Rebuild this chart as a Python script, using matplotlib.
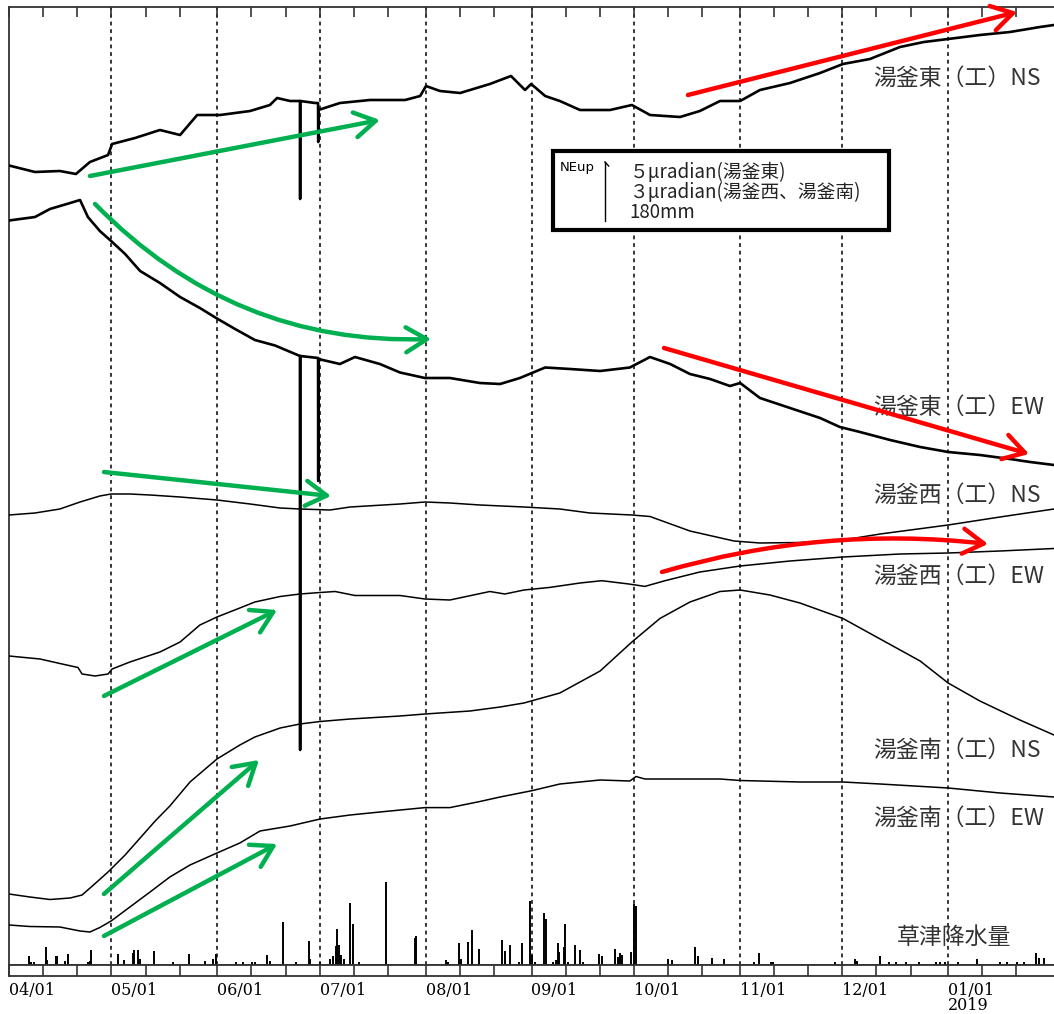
import numpy as np
import matplotlib
matplotlib.use("Agg")
import matplotlib.pyplot as plt
import matplotlib.dates as mdates
from matplotlib.patches import Rectangle

plt.rcParams['font.family'] = ['Noto Sans CJK JP', 'DejaVu Sans']

# days counted from 2018-04-01, levels are stacked plot units (0 = rain baseline)
START = mdates.date2num(np.datetime64('2018-04-01'))
END = mdates.date2num(np.datetime64('2019-02-01'))

east_ns_day = [0, 7.6, 14.9, 19.6, 23.7, 29.0, 30.2, 36.9, 44.2, 50.1, 55.1, 61.8, 70.6, 76.4,
               78.5, 82.3, 85.2, 85.25, 85.3, 89.6, 90.5, 90.55, 90.6, 96.9, 105.7, 116.0,
               120.4, 122.1, 126.2, 132.1, 140.8, 147.0, 151.1, 152.9, 157.0, 161.3, 167.2,
               176.0, 182.4, 187.7, 196.5, 202.3, 208.2, 214.1, 219.9, 228.7, 237.5, 244.2,
               252.1, 260.9, 267.9, 275.0, 284.3, 293.1, 301.9, 306.0]
east_ns_val = [799.5, 793, 794, 791, 803, 810, 821, 827, 835, 830, 850, 850, 854, 860,
               867, 864, 864, 766, 864, 862, 862, 823, 855, 862, 865, 865,
               869, 879, 874, 872, 881, 889, 875, 881, 869, 864, 855,
               855, 860, 850, 848, 854, 864, 864, 875, 882, 892, 901,
               906, 918, 923, 926, 930, 933, 938, 940]

east_ew_day = [0, 7.6, 12.0, 17.9, 20.8, 23.1, 26.6, 29.9, 34.0, 38.4, 44.2, 50.1, 55.9, 60.9,
               66.2, 72.0, 77.9, 85.2, 85.25, 85.3, 90.5, 90.55, 90.6, 96.9, 101.3, 108.6,
               114.5, 121.8, 129.1, 137.9, 143.8, 149.6, 157.0, 164.3, 173.1, 181.8, 187.7,
               193.6, 199.4, 205.3, 211.1, 214.1, 219.9, 228.7, 237.5, 243.3, 249.2, 258.0,
               266.8, 275.0, 284.3, 293.1, 299.0, 306.0]
east_ew_val = [744.5, 748, 756, 762, 765, 748, 734, 724, 711, 694, 682, 668, 657, 646.5,
               636, 625, 619.5, 609, 215, 609, 607, 484, 606, 601, 608, 601,
               592.5, 587, 587, 582, 581, 587, 597.5, 596, 594, 597.5, 608,
               601, 591, 586, 579, 582, 567, 557, 547, 538, 533, 525,
               518, 513, 510, 506, 503, 500]

west_ns_day = [0, 7.6, 14.9, 20.8, 26.6, 29.9, 35.4, 41.3, 50.1, 60.9, 70.6, 79.4, 85.2, 94.0,
               99.9, 114.5, 121.8, 129.1, 137.9, 150.8, 161.3, 170.1, 182.4, 187.7, 199.4,
               212.3, 219.9, 231.6, 244.2, 255.1, 275.0, 290.2, 306.0]
west_ns_val = [450, 452, 456, 463, 469, 471, 471, 470, 468, 465, 461, 457, 456, 455,
               458, 461, 463, 462, 460, 458, 456, 452, 450, 448.5, 434,
               424, 422, 422.5, 425, 431, 440, 448, 456]

west_ew_day = [0, 9.1, 14.9, 20.2, 21.4, 25.2, 29.0, 30.2, 35.4, 44.2, 50.1, 55.9, 60.9, 67.6,
               72.0, 79.4, 85.2, 91.1, 95.5, 101.3, 114.5, 121.8, 129.1, 140.8, 145.2, 150.8,
               158.4, 167.2, 173.6, 181.5, 186.2, 192.1, 202.3, 214.1, 228.7, 244.2, 260.9,
               275.0, 290.2, 306.0]
west_ew_val = [309, 306, 301.5, 297.5, 291, 289, 291, 296, 303, 313, 323, 340, 348, 357,
               363, 368.5, 371, 372.5, 373.5, 369.5, 369.5, 366, 365, 373.5, 371, 375,
               377.6, 382, 384.3, 381, 378.6, 384.3, 393, 399, 404, 408, 411,
               412, 414, 416.5]

south_ns_day = [0, 6.1, 12.0, 17.9, 21.4, 25.2, 29.0, 34.0, 38.4, 42.8, 47.1, 53.0, 60.9, 67.6,
                72.0, 79.4, 85.2, 91.1, 99.9, 114.5, 121.8, 135.0, 143.8, 150.8, 161.3, 173.1,
                182.4, 190.6, 199.4, 208.2, 214.1, 222.8, 231.6, 244.2, 255.1, 266.8, 275.0,
                284.3, 296.0, 306.0]
south_ns_val = [71, 68, 65.5, 67, 70, 81.4, 93, 110, 127, 144, 159, 183, 206, 220,
                228, 237, 241, 243.5, 246, 249, 251, 254, 258, 262, 272, 294,
                323, 346.5, 363, 373.5, 375, 370, 362, 346.5, 326, 304, 282,
                264, 245, 230]

south_ew_day = [0, 6.1, 14.9, 20.8, 23.7, 26.6, 29.9, 35.4, 41.3, 47.1, 53.0, 60.9, 67.6, 73.5,
                82.3, 91.1, 99.9, 108.6, 121.8, 129.1, 137.9, 143.8, 153.1, 161.3, 173.1,
                181.8, 183.6, 186.2, 196.5, 208.2, 214.1, 231.6, 244.2, 255.1, 275.0, 290.2,
                306.0]
south_ew_val = [40, 38.5, 38, 34, 33, 37.5, 44, 58, 73, 88, 100, 112, 122, 134,
                139, 146, 150, 153, 157.4, 157.4, 163.5, 168, 174.3, 181, 185,
                184, 188.5, 186, 186, 186, 184.5, 183, 183, 181, 177, 172,
                168]

# Kusatsu precipitation (mm), same day counting
rain_day = [5.8, 6.4, 7.3, 10.7, 11.0, 13.9, 14.2, 16.4, 17.2, 23.1, 23.7, 24.0, 31.8, 33.7,
            36.3, 36.6, 37.9, 38.4, 42.6, 48.0, 52.7, 57.4, 59.7, 60.6, 66.6, 68.5, 71.1,
            72.0, 75.5, 76.4, 80.2, 83.9, 87.8, 88.1, 91.1, 94.0, 94.9, 95.8, 96.0, 96.6,
            97.2, 98.1, 99.8, 100.7, 102.5, 110.4, 118.9, 119.3, 128.0, 128.6, 131.8, 132.4,
            134.4, 135.6, 137.6, 144.4, 145.1, 146.7, 149.2, 150.2, 152.6, 153.0, 154.0,
            156.7, 157.2, 159.3, 160.2, 160.7, 161.1, 162.5, 162.7, 163.7, 165.7, 167.2,
            168.1, 172.8, 173.6, 177.5, 178.3, 178.9, 179.5, 182.0, 183.0, 183.5, 193.0,
            194.0, 200.8, 201.8, 206.0, 209.4, 218.1, 219.6, 223.0, 223.7, 241.9, 247.7,
            248.3, 255.1, 257.7, 259.6, 262.6, 266.5, 271.4, 272.6, 274.1, 277.9, 283.4,
            290.2, 292.2, 295.2, 297.2, 300.7, 301.6, 303.1]
rain_mm = [26, 9, 8, 54, 15, 27, 27, 12, 35, 9, 12, 46, 35, 15,
           37, 46, 46, 18, 44, 10, 35, 12, 18, 35, 9, 8, 10,
           8, 29, 12, 131, 10, 73, 18, 10, 18, 26, 57, 111, 60,
           30, 18, 188, 124, 10, 253, 81, 88, 15, 9, 67, 18,
           69, 106, 49, 77, 44, 60, 10, 67, 195, 31, 9,
           159, 139, 9, 15, 67, 40, 54, 124, 9, 60, 46,
           9, 35, 26, 49, 24, 37, 31, 40, 186, 180, 18,
           15, 54, 26, 21, 18, 10, 37, 10, 10, 8, 18,
           12, 26, 8, 8, 8, 10, 10, 10, 10, 8, 18,
           10, 10, 10, 10, 37, 21, 21]

RAIN_SCALE = 59 / 180.0   # plot units per mm (scale bar = 180 mm)
SCALE_BAR = 59            # 5 urad (east) / 3 urad (west, south)

trace_labels = ['湯釜東（工）NS', '湯釜東（工）EW', '湯釜西（工）NS',
                '湯釜西（工）EW', '湯釜南（工）NS', '湯釜南（工）EW']
label_level = [887, 558, 470, 389, 215, 147]

month_labels = ['04/01', '05/01', '06/01', '07/01', '08/01', '09/01',
                '10/01', '11/01', '12/01', '01/01\n2019']

# hand drawn arrows: start day, start level, end day, end level, curvature
green_arrows = [(23.7, 789, 108.6, 845, 0.0),
                (25.2, 761, 123.6, 626, 0.22),
                (27.8, 493, 94.3, 469, 0.0),
                (27.8, 269, 78.5, 355, 0.0),
                (27.8, 71, 73.2, 205, 0.0),
                (27.8, 29, 78.5, 121, 0.0)]
red_arrows = [(198.8, 870, 295.2, 953, 0.0),
              (191.8, 617, 298.7, 511, 0.0),
              (191.2, 393, 286.7, 421, -0.1)]


def d(days):
    return START + np.asarray(days, dtype=float)


fig = plt.figure(figsize=(10.54, 10.14), dpi=100)
ax = fig.add_axes([9 / 1054, 49 / 1014, 1045 / 1054, 958 / 1014])
strip = fig.add_axes([9 / 1054, 38 / 1014, 1045 / 1054, 11 / 1014], sharex=ax)

ax.set_xlim(START, END)
ax.set_ylim(0, 958)

# month grid
months = mdates.MonthLocator()
for m in months.tick_values(mdates.num2date(START + 1), mdates.num2date(END - 1)):
    if START < m < END:
        ax.axvline(m, color='black', lw=1.1, ls=(0, (2.5, 2.5)), zorder=1)

# traces
ax.plot(d(east_ns_day), east_ns_val, color='black', lw=1.9, zorder=3)
ax.plot(d(east_ew_day), east_ew_val, color='black', lw=1.9, zorder=3)
for days, vals in [(west_ns_day, west_ns_val), (west_ew_day, west_ew_val),
                   (south_ns_day, south_ns_val), (south_ew_day, south_ew_val)]:
    ax.plot(d(days), vals, color='black', lw=1.1, zorder=3)

# rainfall bars
ax.vlines(d(rain_day), 0, np.array(rain_mm) * RAIN_SCALE, color='black', lw=1.4, zorder=3)

for txt, lev in zip(trace_labels, label_level):
    ax.text(d(253.0), lev, txt, fontsize=16.5, color='#333333', va='center', ha='left')
ax.text(d(260.0), 28, '草津降水量', fontsize=16.5, color='#333333', va='center', ha='left')

# scale box
ax.add_patch(Rectangle((d(159.3), 735), 98.4, 79, fill=True, facecolor='white',
                       edgecolor='black', lw=3, zorder=4))
ax.plot([d(174.5), d(174.5)], [803 - SCALE_BAR, 803], color='black', lw=1, zorder=5)
ax.plot([d(174.5), d(175.6)], [803, 799], color='black', lw=1, zorder=5)
ax.text(d(161.3), 797, 'NEup', fontsize=9.5, family='DejaVu Sans', va='center', zorder=5)
ax.text(d(181.8), 793, '５μradian(湯釜東)', fontsize=13.5, color='#222222', va='center', zorder=5)
ax.text(d(181.8), 772.5, '３μradian(湯釜西、湯釜南)', fontsize=13.5, color='#222222', va='center', zorder=5)
ax.text(d(181.8), 753, '180mm', fontsize=13.5, color='#222222', va='center', zorder=5)

# arrows
for col, arrows in [('#00B050', green_arrows), ('#FF0000', red_arrows)]:
    for x0, y0, x1, y1, rad in arrows:
        ax.annotate('', xy=(d(x1), y1), xytext=(d(x0), y0), zorder=6,
                    arrowprops=dict(arrowstyle='->,head_length=0.75,head_width=0.45',
                                    color=col, lw=3.2, mutation_scale=20,
                                    shrinkA=0, shrinkB=0,
                                    connectionstyle=f'arc3,rad={rad}'))

# axes frame and ticks
ax.set_yticks([])
ax.spines['right'].set_visible(False)
for s in ['left', 'top', 'bottom']:
    ax.spines[s].set_color('#333333')
    ax.spines[s].set_linewidth(1.3)
ax.xaxis.set_major_locator(mdates.MonthLocator())
ax.xaxis.set_minor_locator(mdates.DayLocator(bymonthday=[11, 21]))
ax.tick_params(axis='x', which='both', direction='in', top=True, bottom=False,
               labeltop=False, labelbottom=False, length=7, width=1.2, color='#333333')

strip.set_yticks([])
strip.spines['right'].set_visible(False)
for s in ['left', 'top', 'bottom']:
    strip.spines[s].set_color('#333333')
    strip.spines[s].set_linewidth(1.3)
strip.xaxis.set_major_locator(mdates.MonthLocator())
strip.xaxis.set_minor_locator(mdates.DayLocator(bymonthday=[11, 21]))
strip.tick_params(axis='x', which='both', direction='in', length=8, width=1.2,
                  color='#333333', top=False, bottom=True)
strip.tick_params(axis='x', which='major', pad=4)
ticks = strip.get_xticks()
strip.set_xticks(ticks[:len(month_labels)])
strip.set_xticklabels(month_labels, family='DejaVu Serif', fontsize=11.5, linespacing=0.85)
for lbl in strip.get_xticklabels():
    lbl.set_horizontalalignment('left')
strip.set_xlim(START, END)

fig.savefig('out.png', dpi=100)
